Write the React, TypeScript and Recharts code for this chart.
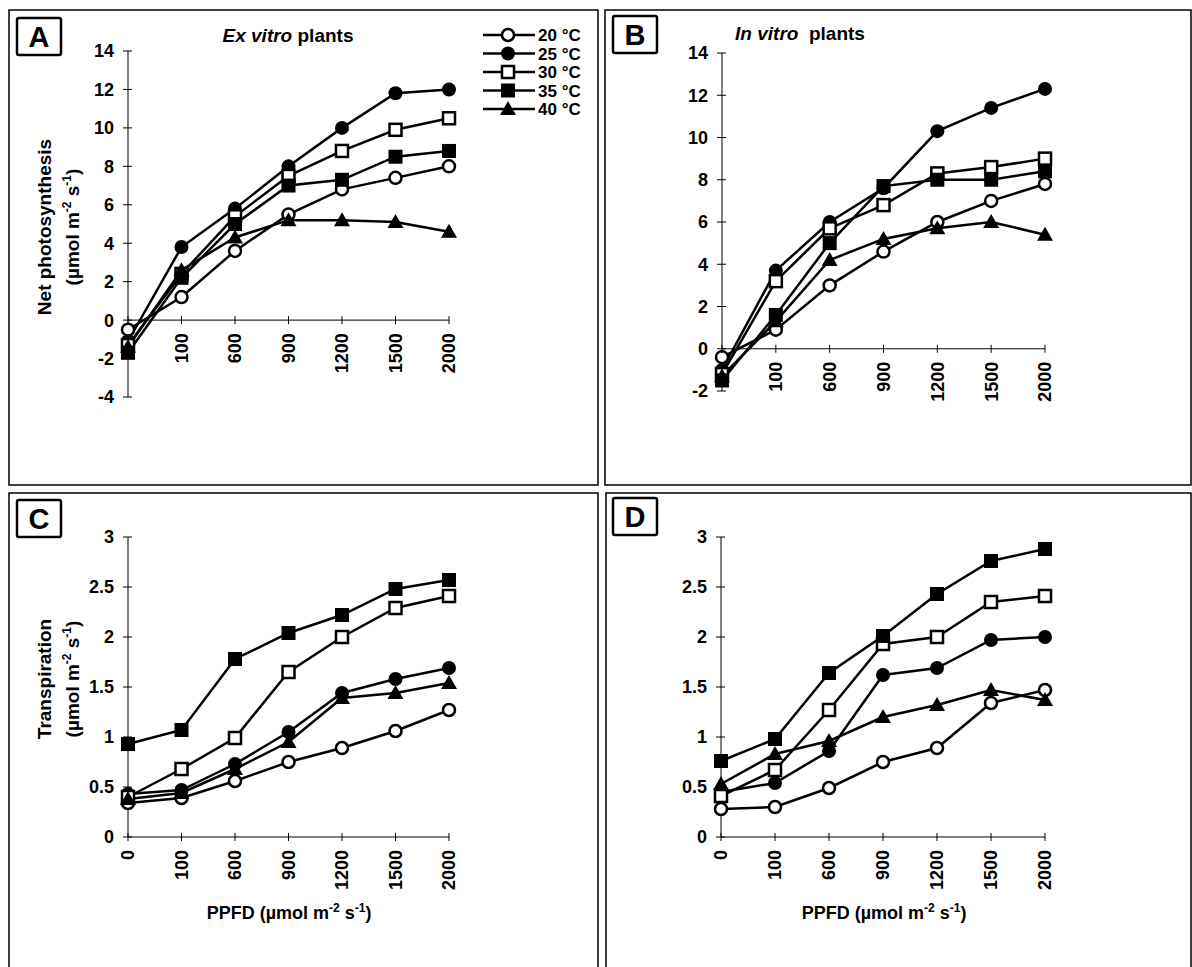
import React from 'react'
import { LineChart, Line, XAxis, YAxis, ReferenceLine } from 'recharts'

const ppfd = ['0', '100', '600', '900', '1200', '1500', '2000']
const temps = ['20 °C', '25 °C', '30 °C', '35 °C', '40 °C']
const keys = ['t20', 't25', 't30', 't35', 't40']
const markers = ['openCircle', 'circle', 'openSquare', 'square', 'triangle']

// A: net photosynthesis, ex vitro plants
const pnEx20 = [-0.5, 1.2, 3.6, 5.5, 6.8, 7.4, 8.0]
const pnEx25 = [-1.1, 3.8, 5.8, 8.0, 10.0, 11.8, 12.0]
const pnEx30 = [-1.3, 2.4, 5.4, 7.5, 8.8, 9.9, 10.5]
const pnEx35 = [-1.7, 2.2, 5.0, 7.0, 7.3, 8.5, 8.8]
const pnEx40 = [-1.4, 2.6, 4.3, 5.2, 5.2, 5.1, 4.6]

// B: net photosynthesis, in vitro plants
const pnIn20 = [-0.4, 0.9, 3.0, 4.6, 6.0, 7.0, 7.8]
const pnIn25 = [-1.0, 3.7, 6.0, 7.6, 10.3, 11.4, 12.3]
const pnIn30 = [-1.2, 3.2, 5.7, 6.8, 8.3, 8.6, 9.0]
const pnIn35 = [-1.5, 1.6, 5.0, 7.7, 8.0, 8.0, 8.4]
const pnIn40 = [-1.3, 1.3, 4.2, 5.2, 5.7, 6.0, 5.4]

// C: transpiration, ex vitro plants
const trEx20 = [0.34, 0.39, 0.56, 0.75, 0.89, 1.06, 1.27]
const trEx25 = [0.43, 0.47, 0.73, 1.05, 1.44, 1.58, 1.69]
const trEx30 = [0.4, 0.68, 0.99, 1.65, 2.0, 2.29, 2.41]
const trEx35 = [0.93, 1.07, 1.78, 2.04, 2.22, 2.48, 2.57]
const trEx40 = [0.38, 0.44, 0.68, 0.95, 1.39, 1.44, 1.54]

// D: transpiration, in vitro plants
const trIn20 = [0.28, 0.3, 0.49, 0.75, 0.89, 1.34, 1.47]
const trIn25 = [0.45, 0.54, 0.86, 1.62, 1.69, 1.97, 2.0]
const trIn30 = [0.41, 0.67, 1.27, 1.93, 2.0, 2.35, 2.41]
const trIn35 = [0.76, 0.98, 1.64, 2.01, 2.43, 2.76, 2.88]
const trIn40 = [0.53, 0.83, 0.96, 1.2, 1.32, 1.47, 1.37]

const pnTicksA = [-4, -2, 0, 2, 4, 6, 8, 10, 12, 14]
const pnTicksB = [-2, 0, 2, 4, 6, 8, 10, 12, 14]
const trTicks = [0, 0.5, 1, 1.5, 2, 2.5, 3]

const FONT = '"Liberation Sans", Arial, Helvetica, sans-serif'

function Marker({ kind, cx, cy }: { kind: string; cx: number; cy: number }) {
  switch (kind) {
    case 'openCircle':
      return <circle cx={cx} cy={cy} r={6} fill="#fff" stroke="#000" strokeWidth={2.5} />
    case 'circle':
      return <circle cx={cx} cy={cy} r={7} fill="#000" />
    case 'openSquare':
      return <rect x={cx - 6} y={cy - 6} width={12} height={12} fill="#fff" stroke="#000" strokeWidth={2.5} />
    case 'square':
      return <rect x={cx - 7} y={cy - 7} width={14} height={14} fill="#000" />
    default:
      return <polygon points={`${cx},${cy - 8} ${cx + 8},${cy + 6} ${cx - 8},${cy + 6}`} fill="#000" />
  }
}

type Box = { x: number; y: number; w: number; h: number }
type Plot = { x0: number; x1: number; y0: number; y1: number }

function Panel({ box, plot, domain, ticks, series, hideZero }: {
  box: Box; plot: Plot; domain: [number, number]; ticks: number[]; series: number[][]; hideZero?: boolean
}) {
  const data = ppfd.map((p, i) => {
    const row: Record<string, any> = { ppfd: p }
    series.forEach((s, j) => { row[keys[j]] = s[i] })
    return row
  })
  const YW = 60
  const XH = 70
  const margin = {
    left: plot.x0 - box.x - YW,
    top: plot.y0 - box.y,
    right: box.x + box.w - plot.x1,
    bottom: box.y + box.h - plot.y1 - XH,
  }
  // x axis crosses the value axis at 0, as in the original spreadsheet chart
  const zeroShift = ((plot.y1 - plot.y0) * (0 - domain[0])) / (domain[1] - domain[0])

  const xTick = (props: any) => {
    const { x, y, payload } = props
    const ay = y - zeroShift
    return (
      <g>
        <line x1={x} x2={x} y1={ay - 4} y2={ay + 4} stroke="#000" strokeWidth={1} />
        {hideZero && payload.value === '0' ? null : (
          <text
            x={x}
            y={ay + 13}
            transform={`rotate(-90, ${x}, ${ay + 13})`}
            textAnchor="end"
            dy="0.36em"
            fontFamily={FONT}
            fontWeight="bold"
            fontSize={18}
            fill="#000"
          >
            {payload.value}
          </text>
        )}
      </g>
    )
  }

  const yTick = (props: any) => {
    const { x, y, payload } = props
    return (
      <g>
        <line x1={x - 5} x2={x + 4} y1={y} y2={y} stroke="#000" strokeWidth={1} />
        <text x={x - 14} y={y} dy="0.36em" textAnchor="end" fontFamily={FONT} fontWeight="bold" fontSize={18} fill="#000">
          {payload.value}
        </text>
      </g>
    )
  }

  return (
    <div style={{ position: 'absolute', left: box.x, top: box.y }}>
      <LineChart width={box.w} height={box.h} data={data} margin={margin}>
        <XAxis
          dataKey="ppfd"
          type="category"
          height={XH}
          axisLine={false}
          tickLine={false}
          tickSize={0}
          tickMargin={0}
          interval={0}
          tick={xTick}
        />
        <YAxis
          type="number"
          width={YW}
          domain={domain}
          ticks={ticks}
          interval={0}
          axisLine={{ stroke: '#000', strokeWidth: 1 }}
          tickLine={false}
          tickSize={0}
          tickMargin={0}
          tick={yTick}
        />
        <ReferenceLine y={0} stroke="#000" strokeWidth={1} />
        {keys.map((k, j) => (
          <Line
            key={k}
            dataKey={k}
            name={temps[j]}
            type="linear"
            stroke="#000"
            strokeWidth={2.5}
            isAnimationActive={false}
            activeDot={false}
            dot={(p: any) => <Marker key={`${k}-${p.index}`} kind={markers[j]} cx={p.cx} cy={p.cy} />}
          />
        ))}
      </LineChart>
    </div>
  )
}

function UnitText({ size }: { size: number }) {
  const s = Math.round(size * 0.65)
  const up = -size * 0.42
  return (
    <>
      <tspan>(µmol m</tspan>
      <tspan fontSize={s} dy={up}>-2</tspan>
      <tspan dy={-up}> s</tspan>
      <tspan fontSize={s} dy={up}>-1</tspan>
      <tspan dy={-up}>)</tspan>
    </>
  )
}

function LetterBox({ x, y, letter }: { x: number; y: number; letter: string }) {
  return (
    <g>
      <rect x={x} y={y} width={44} height={37} rx={2} fill="#fff" stroke="#000" strokeWidth={2.5} />
      <text x={x + 22} y={y + 19} dy="0.36em" textAnchor="middle" fontFamily={FONT} fontWeight="bold" fontSize={29} fill="#000">
        {letter}
      </text>
    </g>
  )
}

function YTitle({ cy, title }: { cy: number; title: string }) {
  return (
    <g fontFamily={FONT} fontWeight="bold" fontSize={19} fill="#000">
      <text x={44} y={cy} transform={`rotate(-90, 44, ${cy})`} textAnchor="middle" dy="0.36em">{title}</text>
      <text x={72} y={cy} transform={`rotate(-90, 72, ${cy})`} textAnchor="middle" dy="0.36em">
        <UnitText size={19} />
      </text>
    </g>
  )
}

const boxA = { x: 9, y: 10, w: 589, h: 475 }
const boxB = { x: 605, y: 10, w: 586, h: 475 }
const boxC = { x: 9, y: 493, w: 589, h: 474 }
const boxD = { x: 606, y: 493, w: 585, h: 474 }

export default function App() {
  return (
    <div style={{ position: 'absolute', left: 0, top: 0, width: 1192, height: 967, background: '#fff', overflow: 'hidden' }}>
      <Panel box={boxA} plot={{ x0: 128, x1: 449, y0: 51, y1: 397 }} domain={[-4, 14]} ticks={pnTicksA}
        series={[pnEx20, pnEx25, pnEx30, pnEx35, pnEx40]} hideZero />
      <Panel box={boxB} plot={{ x0: 722, x1: 1045, y0: 53, y1: 391 }} domain={[-2, 14]} ticks={pnTicksB}
        series={[pnIn20, pnIn25, pnIn30, pnIn35, pnIn40]} hideZero />
      <Panel box={boxC} plot={{ x0: 128, x1: 449, y0: 537, y1: 837 }} domain={[0, 3]} ticks={trTicks}
        series={[trEx20, trEx25, trEx30, trEx35, trEx40]} />
      <Panel box={boxD} plot={{ x0: 721, x1: 1045, y0: 537, y1: 837 }} domain={[0, 3]} ticks={trTicks}
        series={[trIn20, trIn25, trIn30, trIn35, trIn40]} />

      <svg width={1192} height={967} style={{ position: 'absolute', left: 0, top: 0, pointerEvents: 'none' }}>
        {[boxA, boxB, boxC, boxD].map((b, i) => (
          <rect key={i} x={b.x} y={b.y} width={b.w} height={b.h + (i > 1 ? 10 : 0)} fill="none" stroke="#000" strokeWidth={1.5} />
        ))}
        <LetterBox x={17} y={18} letter="A" />
        <LetterBox x={613} y={16} letter="B" />
        <LetterBox x={17} y={500} letter="C" />
        <LetterBox x={613} y={498} letter="D" />

        <text x={288} y={35} dy="0.36em" textAnchor="middle" fontFamily={FONT} fontWeight="bold" fontSize={19}>
          <tspan fontStyle="italic">Ex vitro</tspan> plants
        </text>
        <text x={800} y={33} dy="0.36em" textAnchor="middle" fontFamily={FONT} fontWeight="bold" fontSize={19}>
          <tspan fontStyle="italic">In vitro</tspan>{'\u00a0\u00a0'}plants
        </text>

        <YTitle cy={227} title="Net photosynthesis" />
        <YTitle cy={679} title="Transpiration" />

        <text x={289} y={913} dy="0.36em" textAnchor="middle" fontFamily={FONT} fontWeight="bold" fontSize={18}>
          PPFD <UnitText size={18} />
        </text>
        <text x={884} y={913} dy="0.36em" textAnchor="middle" fontFamily={FONT} fontWeight="bold" fontSize={18}>
          PPFD <UnitText size={18} />
        </text>

        {temps.map((t, j) => {
          const y = 35 + j * 18.5
          return (
            <g key={t}>
              <line x1={483} x2={535} y1={y} y2={y} stroke="#000" strokeWidth={2.5} />
              <Marker kind={markers[j]} cx={508} cy={y} />
              <text x={538} y={y} dy="0.36em" fontFamily={FONT} fontWeight="bold" fontSize={17}>{t}</text>
            </g>
          )
        })}
      </svg>
    </div>
  )
}
